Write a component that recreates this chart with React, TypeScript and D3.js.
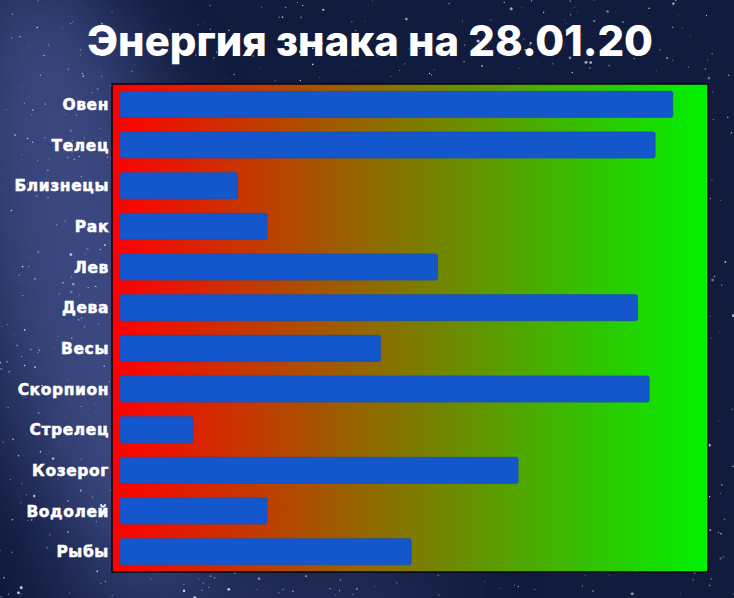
import { useEffect, useRef } from 'react';
import * as d3 from 'd3';

const signs = ['Овен', 'Телец', 'Близнецы', 'Рак', 'Лев', 'Дева', 'Весы', 'Скорпион', 'Стрелец', 'Козерог', 'Водолей', 'Рыбы'];
const energy = [94, 91, 20, 25, 54, 88, 44.3, 90, 12.4, 67.7, 25, 49.5];
const title = 'Энергия знака на 28.01.20';

export default function App() {
  const svgRef = useRef<SVGSVGElement>(null);

  useEffect(() => {
    if (!svgRef.current) return;
    const width = 734;
    const height = 598;
    const plot = { left: 112, top: 84, right: 708, bottom: 572 };

    const svg = d3.select(svgRef.current);
    svg.selectAll('*').remove();
    svg.attr('width', width).attr('height', height);

    const defs = svg.append('defs');
    const grad = defs.append('linearGradient').attr('id', 'energyGrad')
      .attr('x1', '0%').attr('x2', '100%').attr('y1', '0%').attr('y2', '0%');
    grad.append('stop').attr('offset', '0%').attr('stop-color', '#ff0000');
    grad.append('stop').attr('offset', '100%').attr('stop-color', '#00f200');

    const blur = defs.append('filter').attr('id', 'blur')
      .attr('x', '-50%').attr('y', '-50%').attr('width', '200%').attr('height', '200%');
    blur.append('feGaussianBlur').attr('stdDeviation', 45);

    // Night sky
    svg.append('rect').attr('width', width).attr('height', height).attr('fill', '#111b3d');
    svg.append('ellipse')
      .attr('cx', 90).attr('cy', 280).attr('rx', 110).attr('ry', 330)
      .attr('transform', 'rotate(-12 90 280)')
      .attr('fill', '#4a5796').attr('opacity', 0.75)
      .attr('filter', 'url(#blur)');
    svg.append('ellipse')
      .attr('cx', 260).attr('cy', 600).attr('rx', 200).attr('ry', 40)
      .attr('fill', '#3a4680').attr('opacity', 0.6)
      .attr('filter', 'url(#blur)');

    // stars (decoration only, deterministic)
    let seed = 7;
    const rnd = () => { seed = (seed * 16807) % 2147483647; return seed / 2147483647; };
    const stars = svg.append('g');
    for (let i = 0; i < 1300; i++) {
      const sx = rnd() * width;
      const sy = rnd() * height;
      const r = rnd() < 0.9 ? 0.4 + rnd() * 0.5 : 0.9 + rnd() * 0.8;
      stars.append('circle').attr('cx', sx).attr('cy', sy).attr('r', r)
        .attr('fill', '#dfe6ff').attr('opacity', 0.3 + rnd() * 0.6);
    }

    // Title
    svg.append('text')
      .attr('x', 370).attr('y', 56)
      .attr('text-anchor', 'middle')
      .attr('fill', '#ffffff')
      .attr('font-family', 'Inter, "Open Sans", sans-serif')
      .attr('font-weight', 800)
      .attr('font-size', 42)
      .attr('textLength', 566)
      .attr('lengthAdjust', 'spacingAndGlyphs')
      .text(title);

    // Plot background
    svg.append('rect')
      .attr('x', plot.left).attr('y', plot.top)
      .attr('width', plot.right - plot.left).attr('height', plot.bottom - plot.top)
      .attr('fill', 'url(#energyGrad)')
      .attr('stroke', '#05070f').attr('stroke-width', 1.5);

    const x = d3.scaleLinear().domain([0, 100]).range([120, plot.right]);
    const y = d3.scaleBand<string>()
      .domain(signs)
      .range([plot.top, plot.bottom])
      .paddingInner(0.36)
      .paddingOuter(0.18);

    svg.append('g').selectAll('rect')
      .data(signs)
      .join('rect')
      .attr('x', x(0))
      .attr('y', d => y(d) as number)
      .attr('width', (d, i) => x(energy[i]) - x(0))
      .attr('height', y.bandwidth())
      .attr('rx', 2)
      .attr('fill', '#1456cc')
      .attr('stroke', '#1a4fb0').attr('stroke-width', 0.8);

    // Category labels
    svg.append('g').selectAll('text')
      .data(signs)
      .join('text')
      .attr('x', 109)
      .attr('y', d => (y(d) as number) + y.bandwidth() / 2)
      .attr('dy', '0.36em')
      .attr('text-anchor', 'end')
      .attr('fill', '#ffffff')
      .attr('stroke', '#ffffff').attr('stroke-width', 0.5)
      .attr('font-family', '"DejaVu Sans", "Liberation Sans", sans-serif')
      .attr('font-weight', 700)
      .attr('font-size', 15.5)
      .attr('letter-spacing', 0.6)
      .text(d => d);
  }, []);

  return (
    <div style={{ position: 'absolute', left: 0, top: 0 }}>
      <svg ref={svgRef} style={{ display: 'block' }}></svg>
    </div>
  );
}
